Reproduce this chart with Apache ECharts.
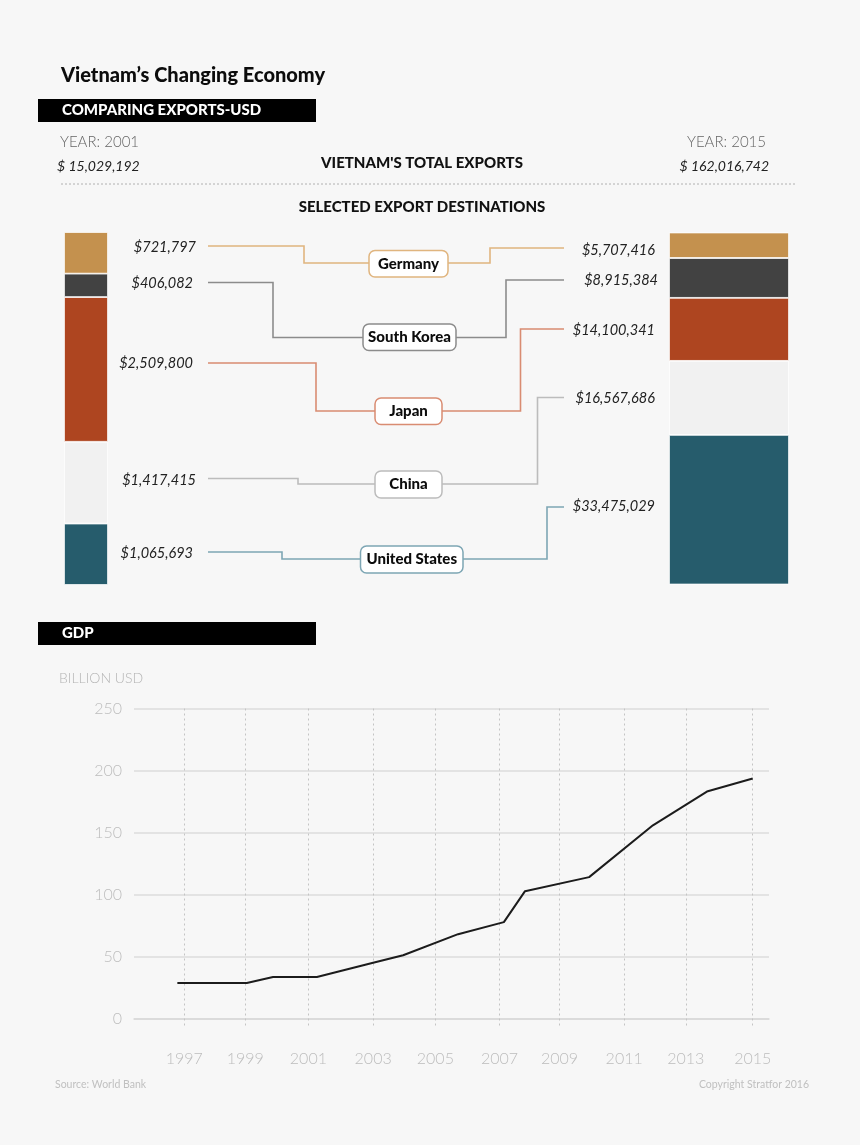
<!DOCTYPE html>
<html>
<head>
<meta charset="utf-8">
<title>Vietnam's Changing Economy</title>
<style>
html, body { margin: 0; padding: 0; background: #f7f7f7; }
#charts { width: 860px; height: 1145px; }
</style>
<script src="https://cdn.jsdelivr.net/npm/echarts@6/dist/echarts.min.js"></script>
</head>
<body>
<div id="charts"></div>
<script>
"use strict";

// exports, top to bottom of the stacks
var destinations = ['Germany', 'South Korea', 'Japan', 'China', 'United States'];
var exports2001 = [721797, 406082, 2509800, 1417415, 1065693];
var exports2015 = [5707416, 8915384, 14100341, 16567686, 33475029];
var total2001 = 15029192;
var total2015 = 162016742;

// gdp line, x values are read off the picture so they are not whole years
var gdpYears = [1996.78, 1998.98, 1999.81, 2001.2, 2002.98, 2003.93, 2005.67, 2007.12, 2007.79, 2009.82, 2011.84, 2013.55, 2015];
var gdpValues = [28.6, 28.6, 33.4, 33.4, 45, 51, 68, 77.7, 102.7, 114, 155.8, 183, 193.6];
var yearTicks = [1997, 1998.93, 2000.93, 2002.98, 2004.95, 2006.98, 2008.88, 2010.93, 2012.88, 2015];
var gdpTicks = [0, 50, 100, 150, 200, 250];

var barColors = ['#c4914e', '#424242', '#ae4520', '#f1f1f1', '#265c6c'];
var lineColors = ['#e0b57f', '#8c8c8c', '#d98c72', '#bcbcbc', '#7da6b4'];

// connector layout, page pixels
var connectors = [
    { left: [[208, 246], [304, 246], [304, 263], [369, 263]], right: [[448, 263], [490, 263], [490, 248], [564, 248]], box: [369, 250.5, 79, 26.5] },
    { left: [[208, 282.5], [273, 282.5], [273, 337.5], [363, 337.5]], right: [[456, 337.5], [506, 337.5], [506, 280], [564, 280]], box: [363, 324, 93, 26.5] },
    { left: [[208, 363], [316, 363], [316, 411], [375, 411]], right: [[442, 411], [520.5, 411], [520.5, 329], [564, 329]], box: [375, 398, 67, 26.5] },
    { left: [[208, 478.5], [298, 478.5], [298, 484], [375, 484]], right: [[442, 484], [537.5, 484], [537.5, 397.5], [564, 397.5]], box: [375, 471, 67, 27] },
    { left: [[208, 552], [282, 552], [282, 559], [360.5, 559]], right: [[463, 559], [547, 559], [547, 507], [564, 507]], box: [360.5, 546, 102.5, 27] }
];
var leftLabelPos = [[196, 247], [193, 283], [193, 363], [196, 480], [193, 553]];
var rightLabelPos = [[655, 250], [658, 280], [655, 330], [655, 398], [655, 506]];

var FONT = 'Lato, "Noto Sans", sans-serif';

function money(v) {
    return '$' + v.toLocaleString('en-US');
}

function sum(arr) {
    var s = 0;
    for (var i = 0; i < arr.length; i++) s += arr[i];
    return s;
}

function text(str, x, y, size, color, opts) {
    opts = opts || {};
    return {
        type: 'text',
        z: 20,
        style: {
            text: str,
            x: x,
            y: y,
            fill: color,
            align: opts.align || 'left',
            verticalAlign: 'middle',
            fontFamily: FONT,
            fontSize: size,
            fontWeight: opts.weight || 'normal',
            fontStyle: opts.style || 'normal'
        }
    };
}

function polyline(points, color) {
    return {
        type: 'polyline',
        z: 5,
        shape: { points: points },
        style: { stroke: color, lineWidth: 1.6, fill: null, lineJoin: 'miter' }
    };
}

function blackBar(y, label) {
    return [
        { type: 'rect', z: 10, shape: { x: 38, y: y, width: 278, height: 23 }, style: { fill: '#000' } },
        text(label, 62, y + 11.5, 15, '#fff', { weight: 900 })
    ];
}

var graphics = [];
graphics.push(text("Vietnam\u2019s Changing Economy", 61, 75.5, 20, '#0c0c0c', { weight: 900 }));
graphics = graphics.concat(blackBar(99, 'COMPARING EXPORTS-USD'));
graphics = graphics.concat(blackBar(622, 'GDP'));
graphics.push(text('YEAR: 2001', 60, 142, 15, '#666', { weight: 300 }));
graphics.push(text('YEAR: 2015', 766, 142, 15, '#666', { weight: 300, align: 'right' }));
graphics.push(text('$ ' + total2001.toLocaleString('en-US'), 57, 166, 14, '#222', { style: 'italic' }));
graphics.push(text('$ ' + total2015.toLocaleString('en-US'), 769, 166, 14, '#222', { style: 'italic', align: 'right' }));
graphics.push(text("VIETNAM'S TOTAL EXPORTS", 422, 163, 15, '#111', { weight: 900, align: 'center' }));
graphics.push(text('SELECTED EXPORT DESTINATIONS', 422, 207, 15, '#111', { weight: 900, align: 'center' }));
graphics.push({
    type: 'line',
    z: 5,
    shape: { x1: 61, y1: 184, x2: 795, y2: 184 },
    style: { stroke: '#b0b0b0', lineWidth: 1, lineDash: [2, 2] }
});
graphics.push(text('BILLION USD', 59, 678, 14, '#b4b4b4', { weight: 300 }));
graphics.push(text('Source: World Bank', 55, 1085, 10.5, '#c0c0c0'));
graphics.push(text('Copyright Stratfor 2016', 809, 1085, 10.5, '#c0c0c0', { align: 'right' }));

for (var i = 0; i < destinations.length; i++) {
    var c = connectors[i];
    graphics.push(polyline(c.left, lineColors[i]));
    graphics.push(polyline(c.right, lineColors[i]));
    graphics.push({
        type: 'rect',
        z: 10,
        shape: { x: c.box[0], y: c.box[1], width: c.box[2], height: c.box[3], r: 6 },
        style: { fill: '#fff', stroke: lineColors[i], lineWidth: 1.5 }
    });
    graphics.push(text(destinations[i], c.box[0] + c.box[2] / 2, c.box[1] + c.box[3] / 2, 15, '#0c0c0c', { weight: 900, align: 'center' }));
    graphics.push(text(money(exports2001[i]), leftLabelPos[i][0], leftLabelPos[i][1], 14.5, '#222', { style: 'italic', align: 'right' }));
    graphics.push(text(money(exports2015[i]), rightLabelPos[i][0], rightLabelPos[i][1], 14.5, '#222', { style: 'italic', align: 'right' }));
}

function stackSeries(values, axisIndex, stackName) {
    var out = [];
    // bottom of the stack first
    for (var i = values.length - 1; i >= 0; i--) {
        out.push({
            name: destinations[i],
            type: 'bar',
            stack: stackName,
            xAxisIndex: axisIndex,
            yAxisIndex: axisIndex,
            barWidth: '100%',
            itemStyle: { color: barColors[i], borderColor: '#fff', borderWidth: 0.8 },
            data: [values[i]]
        });
    }
    return out;
}

var series = stackSeries(exports2001, 0, 'y2001').concat(stackSeries(exports2015, 1, 'y2015'));
series.push({
    name: 'GDP',
    type: 'line',
    xAxisIndex: 2,
    yAxisIndex: 2,
    showSymbol: false,
    symbol: 'none',
    lineStyle: { color: '#1c1c1c', width: 2 },
    data: gdpYears.map(function (y, i) { return [y, gdpValues[i]]; })
});

var myChart = echarts.init(document.getElementById('charts'));
var option = {
    animation: false,
    backgroundColor: '#f7f7f7',
    grid: [
        { left: 64, top: 232, width: 44, height: 353 },
        { left: 669, top: 232.5, width: 120, height: 352 },
        { left: 134, top: 708.5, right: 91, height: 310 }
    ],
    xAxis: [
        { gridIndex: 0, type: 'category', data: ['2001'], show: false },
        { gridIndex: 1, type: 'category', data: ['2015'], show: false },
        {
            gridIndex: 2,
            type: 'value',
            min: 1995.407,
            max: 2015.516,
            axisLine: { lineStyle: { color: '#d9d9d9', width: 1.5 } },
            axisTick: {
                show: true,
                length: 7,
                customValues: yearTicks,
                lineStyle: { color: '#c4c4c4', type: [2, 3] }
            },
            axisLabel: {
                customValues: yearTicks,
                margin: 32,
                color: '#bdbdbd',
                fontFamily: FONT,
                fontWeight: 300,
                fontSize: 16,
                formatter: function (v) { return String(Math.round(v)); }
            },
            splitLine: { show: true, lineStyle: { color: '#c4c4c4', type: [2, 3], width: 1 } }
        }
    ],
    yAxis: [
        { gridIndex: 0, type: 'value', min: 0, max: sum(exports2001), show: false },
        { gridIndex: 1, type: 'value', min: 0, max: sum(exports2015), show: false },
        {
            gridIndex: 2,
            type: 'value',
            min: gdpTicks[0],
            max: gdpTicks[gdpTicks.length - 1],
            interval: 50,
            axisLine: { show: false },
            axisTick: { show: false },
            axisLabel: { margin: 12, color: '#bdbdbd', fontFamily: FONT, fontWeight: 300, fontSize: 16 },
            splitLine: { lineStyle: { color: '#dcdcdc', width: 1.5 } }
        }
    ],
    series: series,
    graphic: graphics
};

if (option && typeof option === "object") {
    myChart.setOption(option, true);
}
</script>
</body>
</html>
